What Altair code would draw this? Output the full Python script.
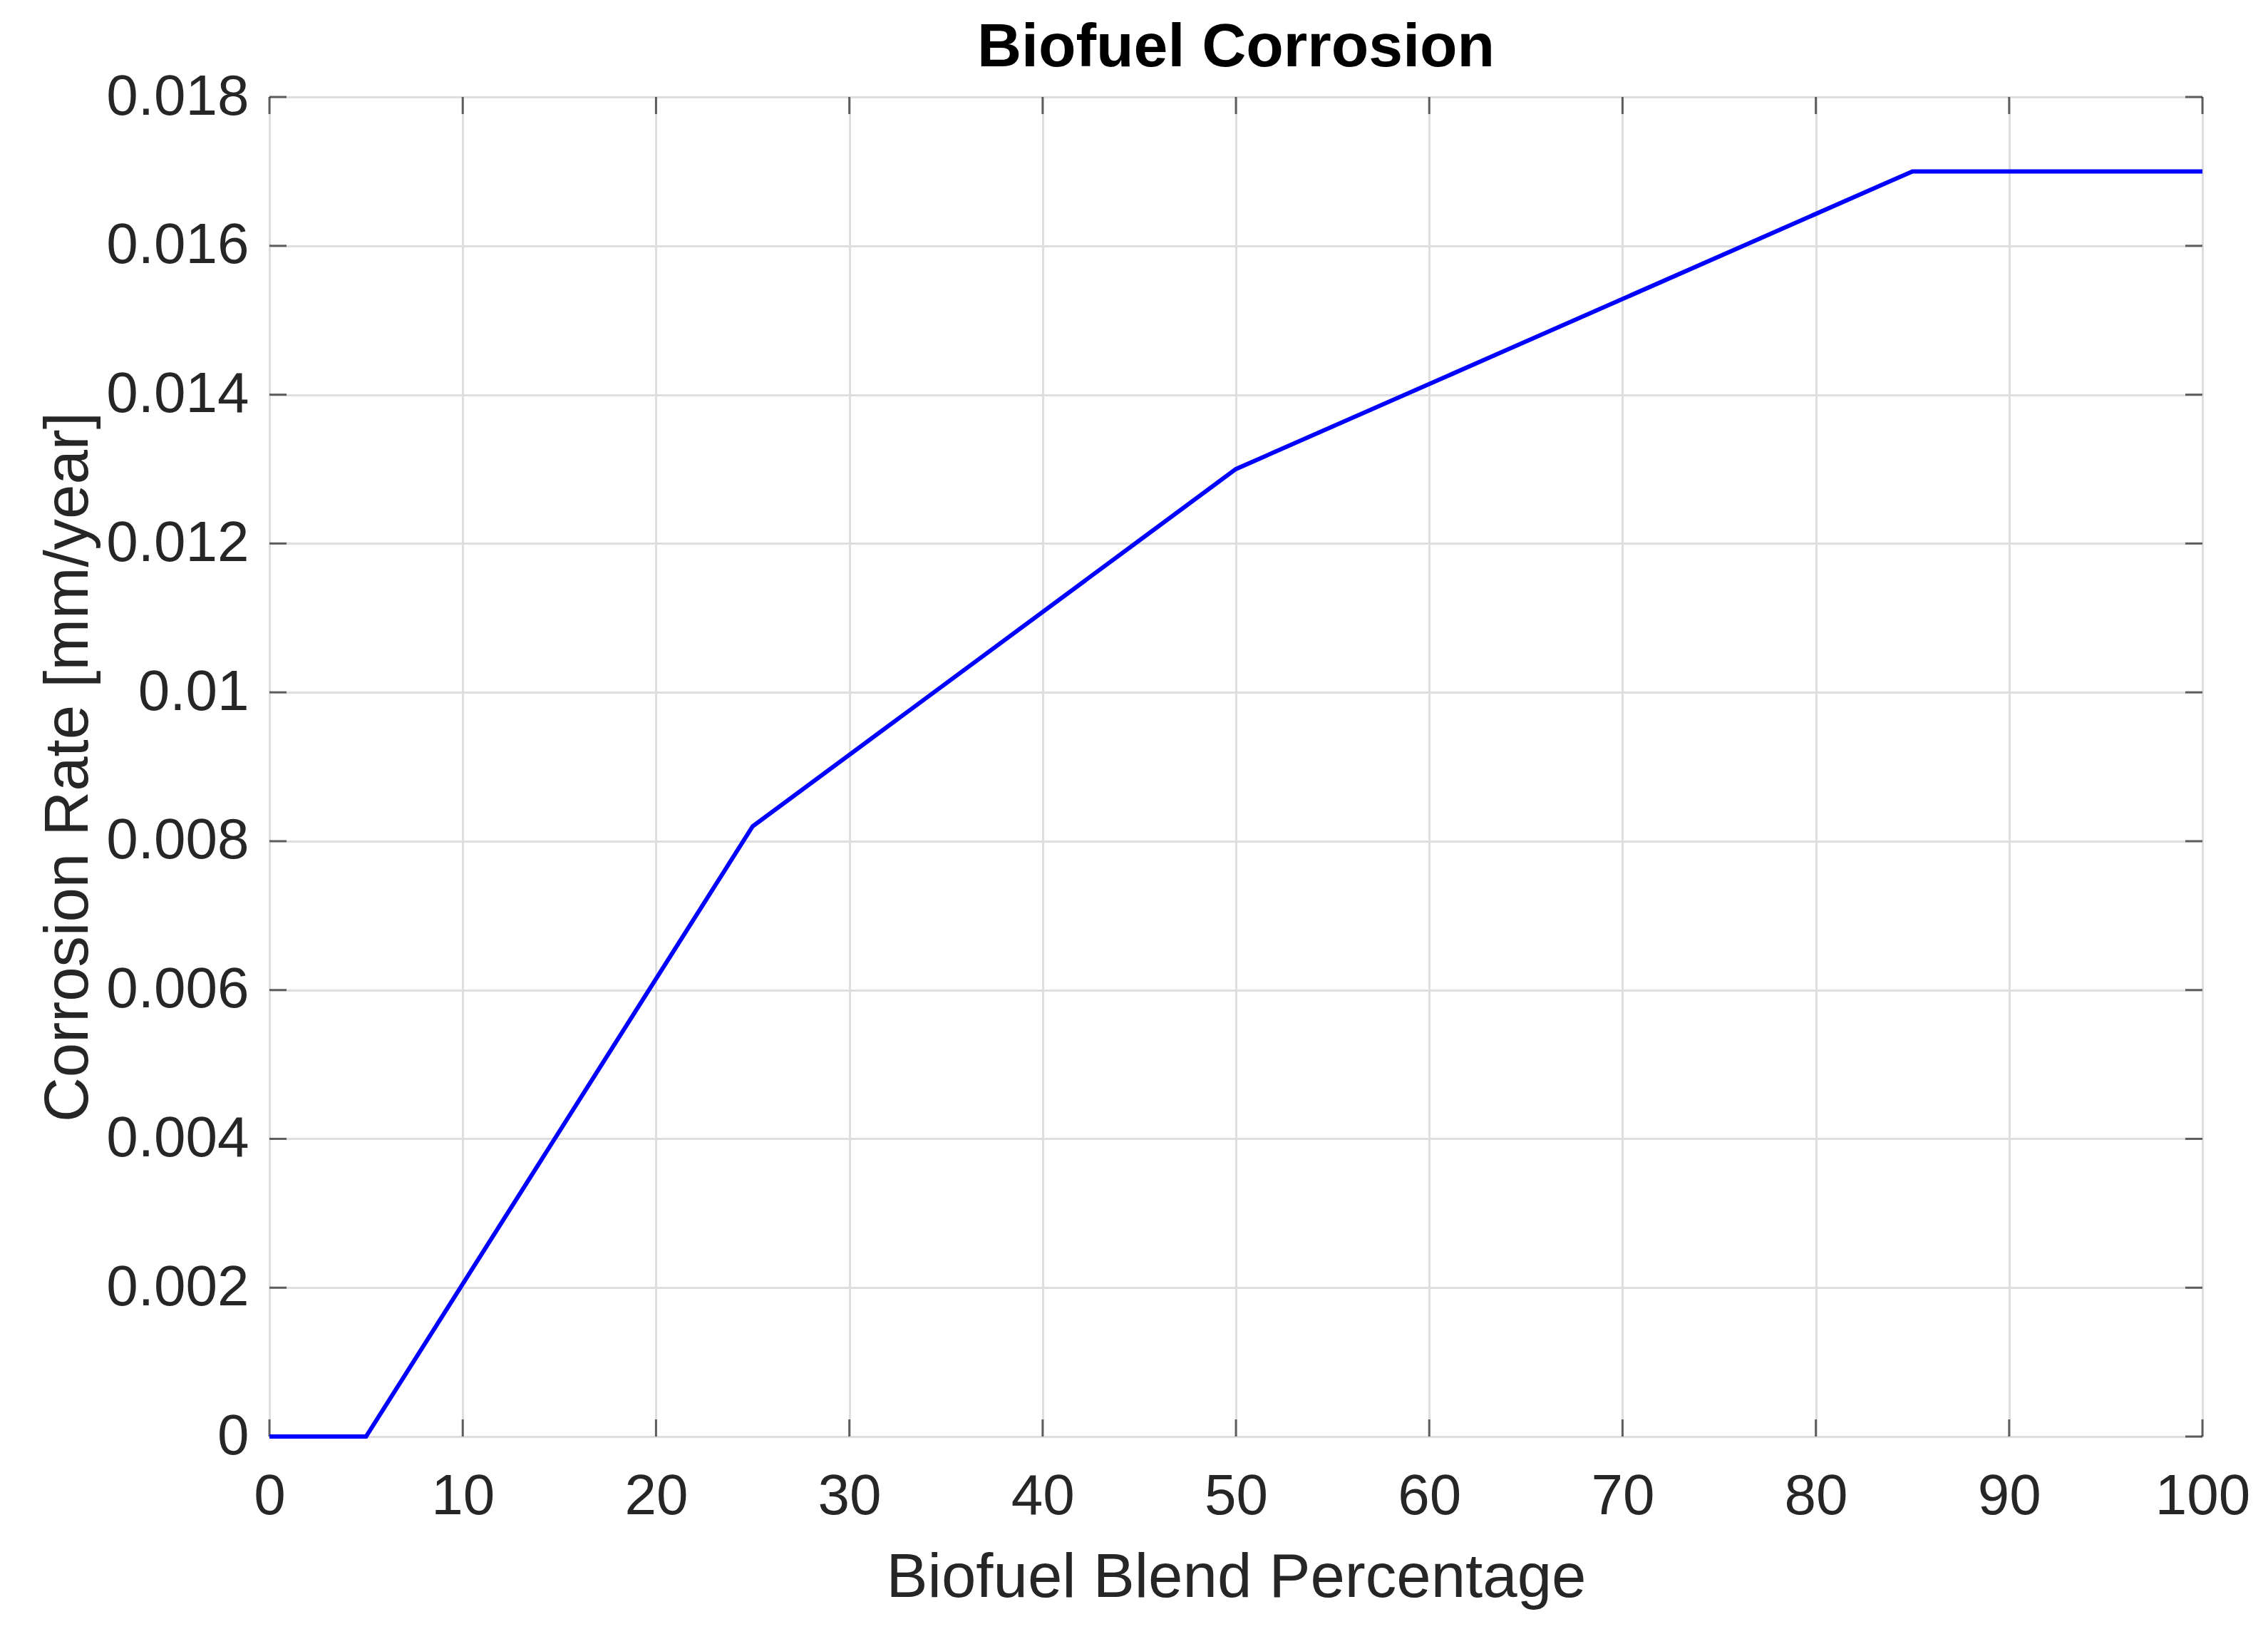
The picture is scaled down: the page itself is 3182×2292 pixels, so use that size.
import altair as alt
import pandas as pd

# data
blend_pct = [0, 5, 25, 50, 85, 100]
corrosion_rate = [0.0, 0.0, 0.0082, 0.013, 0.017, 0.017]
x_ticks = [0, 10, 20, 30, 40, 50, 60, 70, 80, 90, 100]
y_ticks = [0, 0.002, 0.004, 0.006, 0.008, 0.01, 0.012, 0.014, 0.016, 0.018]

df = pd.DataFrame({"x": blend_pct, "y": corrosion_rate})
dfx = pd.DataFrame({"x": x_ticks})
dfy = pd.DataFrame({"y": y_ticks})

W, H = 2712, 1879
FONT = "Liberation Sans"
AX = "#262626"
GRID = "#dedede"

xscale = alt.Scale(domain=[0, 100], nice=False, zero=False)
yscale = alt.Scale(domain=[0, 0.018], nice=False, zero=False)

line = alt.Chart(df).mark_line(color="#0000ff", strokeWidth=6).encode(
    x=alt.X("x:Q", scale=xscale, title="Biofuel Blend Percentage",
            axis=alt.Axis(values=x_ticks, format="~r", grid=True, gridColor=GRID, gridWidth=3,
                          domain=False, ticks=False, tickSize=0, labelPadding=45,
                          labelFont=FONT, labelFontSize=80, labelColor=AX, labelLimit=1000,
                          titleFont=FONT, titleFontSize=87, titleFontWeight="normal", titleColor=AX,
                          titleBaseline="alphabetic", titleY=224, labelFlush=False)),
    y=alt.Y("y:Q", scale=yscale, title="Corrosion Rate [mm/year]",
            axis=alt.Axis(values=y_ticks, format="~r", grid=True, gridColor=GRID, gridWidth=3,
                          domain=False, ticks=False, tickSize=0, labelPadding=29,
                          labelFont=FONT, labelFontSize=80, labelColor=AX, labelLimit=1000,
                          titleFont=FONT, titleFontSize=87, titleFontWeight="normal", titleColor=AX,
                          titleBaseline="alphabetic", titleX=-256, titleY=H / 2, titleAngle=-90,
                          titleAlign="center", labelFlush=False)),
)

TL = 24
tick_style = dict(color=AX, thickness=3, size=TL)

bottom = alt.Chart(dfx).mark_tick(orient="vertical", yOffset=-TL / 2, **tick_style).encode(
    x=alt.X("x:Q", scale=xscale), y=alt.datum(0, scale=yscale))
top = alt.Chart(dfx).mark_tick(orient="vertical", yOffset=TL / 2, **tick_style).encode(
    x=alt.X("x:Q", scale=xscale), y=alt.datum(0.018, scale=yscale))
left = alt.Chart(dfy).mark_tick(orient="horizontal", xOffset=TL / 2, **tick_style).encode(
    y=alt.Y("y:Q", scale=yscale), x=alt.datum(0, scale=xscale))
right = alt.Chart(dfy).mark_tick(orient="horizontal", xOffset=-TL / 2, **tick_style).encode(
    y=alt.Y("y:Q", scale=yscale), x=alt.datum(100, scale=xscale))

chart = alt.layer(bottom, top, left, right, line).properties(
    width=W, height=H,
    title=alt.TitleParams("Biofuel Corrosion", font=FONT, fontSize=86, fontWeight="bold",
                          color="#000000", anchor="middle", baseline="alphabetic", offset=-83),
    autosize=alt.AutoSizeParams(type="none"),
    padding={"left": 370, "top": 128, "right": 84, "bottom": 269},
).configure_view(stroke=AX, strokeWidth=3).configure(background="white")

chart.save("out.html", embed_options={"renderer": "svg", "actions": False})
